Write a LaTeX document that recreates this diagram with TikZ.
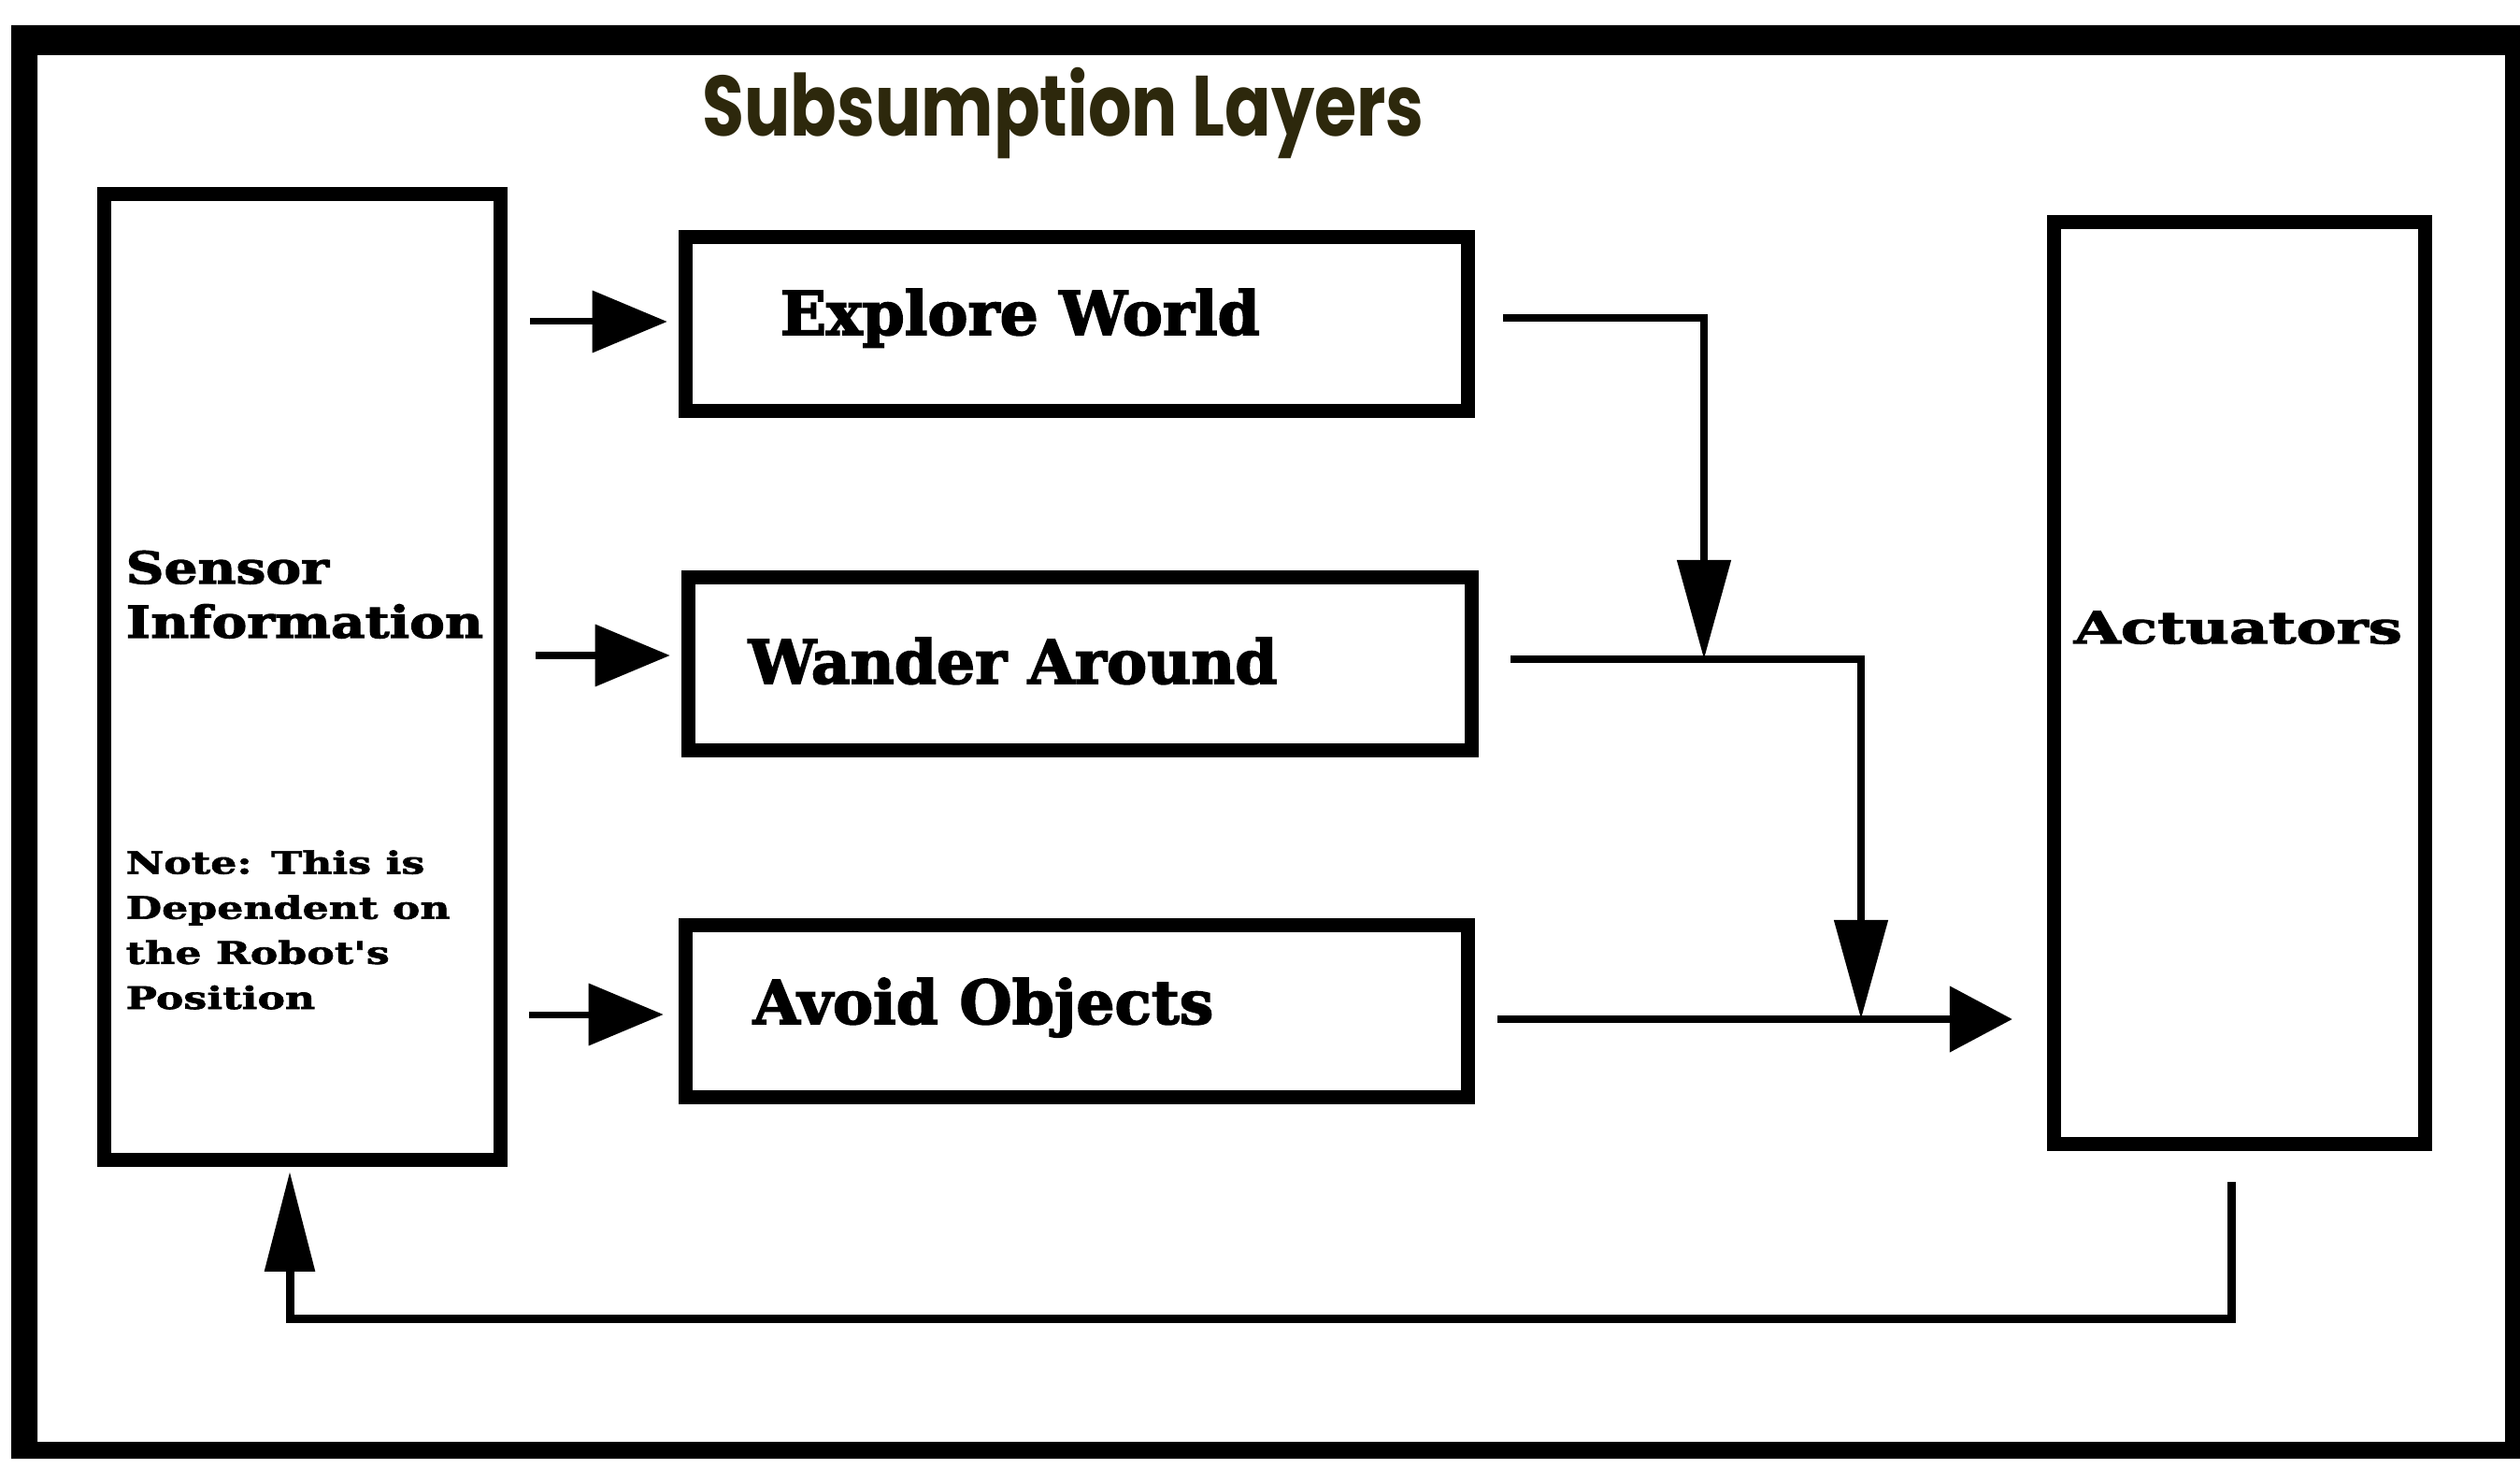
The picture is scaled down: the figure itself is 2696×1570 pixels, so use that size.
\documentclass[tikz,border=0pt]{standalone}
\usepackage{fontspec}
\usetikzlibrary{arrows.meta}
\newfontfamily\titlefont{Poppins}[FakeStretch=0.8]
\newfontfamily\slab{DejaVu Serif}[FakeBold=2.5]
\newfontfamily\wideslab{DejaVu Serif}[FakeStretch=1.2, FakeBold=2.5]
\newfontfamily\widerslab{DejaVu Serif}[FakeStretch=1.37, FakeBold=2.5]
\newfontfamily\noteslab{DejaVu Serif}[FakeStretch=1.34, FakeBold=2]
\definecolor{titlecol}{RGB}{45,40,12}
\tikzset{
  box/.style={draw, line width=0.15cm, inner sep=0pt, rectangle},
  lbl/.style={inner sep=0pt, font=\slab\bfseries\fontsize{18.4}{20}\selectfont},
  side/.style={inner sep=0pt, align=left, font=\wideslab\bfseries\fontsize{13.4}{17.6}\selectfont},
  actlbl/.style={inner sep=0pt, font=\widerslab\bfseries\fontsize{13.4}{17.6}\selectfont},
  note/.style={inner sep=0pt, align=left, font=\noteslab\bfseries\fontsize{9.4}{13.7}\selectfont},
  inarrow/.style={line width=0.07cm, -{Triangle[length=0.8cm, width=0.65cm]}},
  downarrow/.style={line width=0.08cm, -{Triangle[length=1.06cm, width=0.56cm]}},
  outarrow/.style={line width=0.08cm, -{Triangle[length=0.67cm, width=0.69cm]}},
  backarrow/.style={line width=0.09cm, -{Triangle[length=1.07cm, width=0.52cm]}}
}
\begin{document}
\begin{tikzpicture}[x=0.01cm, y=-0.01cm]
\useasboundingbox (0,0) rectangle (2696,1570);
\fill[white] (0,0) rectangle (2696,1570);
% outer frame
\fill[black, even odd rule] (12,27) rectangle (2696,1560) (40,59) rectangle (2680,1542);
% title
\node[inner sep=0pt, anchor=base west, text=titlecol, font=\titlefont\bfseries\fontsize{26}{30}\selectfont] (title) at (751,146) {Subsumption Layers};
% boxes
\node[box, minimum width=4.23cm, minimum height=10.32cm] (sensor) at (323.5,724) {};
\node[box, minimum width=8.37cm, minimum height=1.86cm] (explore) at (1152,346.5) {};
\node[box, minimum width=8.38cm, minimum height=1.85cm] (wander) at (1155.5,710) {};
\node[box, minimum width=8.37cm, minimum height=1.84cm] (avoid) at (1152,1081.5) {};
\node[box, minimum width=3.97cm, minimum height=9.86cm] (act) at (2396,730.5) {};
% labels
\node[lbl, anchor=base west] (texplore) at (834,358) {Explore World};
\node[lbl, anchor=base west] (twander) at (800,731) {Wander Around};
\node[lbl, anchor=base west] (tavoid) at (805,1095) {Avoid Objects};
\node[actlbl, anchor=base west] (tact) at (2218,688) {Actuators};
\node[side, anchor=base west] (tsensor) at (134,624) {Sensor};
\node[side, anchor=base west] (tinfo) at (134,682) {Information};
\node[note, anchor=base west] (tnote) at (134,1079) {Note: This is\\Dependent on\\the Robot's\\Position};
% connector coordinates
\coordinate (s1) at (567,344);
\coordinate (s2) at (573,701);
\coordinate (s3) at (566,1085);
\coordinate (e1) at (1608,340);
\coordinate (w1) at (1616,705);
\coordinate (a1) at (1602,1090);
\coordinate (j1) at (1823,705);
\coordinate (j2) at (1991,1090);
\coordinate (f1) at (2387,1264);
\coordinate (f2) at (310,1410);
% input arrows
\draw[inarrow, shorten >=0.12cm] (s1) -- (s1 -| explore.west);
\draw[inarrow, shorten >=0.12cm] (s2) -- (s2 -| wander.west);
\draw[inarrow, shorten >=0.16cm] (s3) -- (s3 -| avoid.west);
% subsumption arrows
\draw[downarrow, line join=miter] (e1) -| (j1);
\draw[downarrow, line join=miter] (w1) -| (j2);
\draw[outarrow, shorten >=0.37cm] (a1) -- (a1 -| act.west);
% feedback
\draw[backarrow, line join=miter, shorten >=0.05cm] (f1) |- (f2) -- (f2 |- sensor.south);
\end{tikzpicture}
\end{document}
